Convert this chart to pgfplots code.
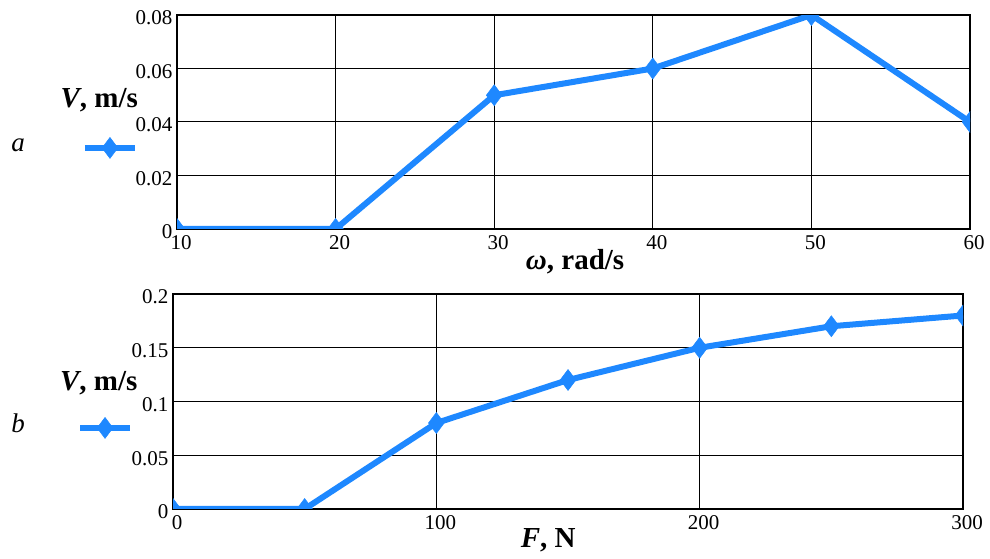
\documentclass[border=0pt]{standalone}
\usepackage{pgfplots}
\pgfplotsset{compat=1.18}
\usepackage{fontspec}
\setmainfont{Liberation Serif}
\definecolor{lineblue}{RGB}{30,136,255}
\pgfplotsset{
  mystyle/.style={
    scale only axis,
    clip marker paths=true,
    axis line style={black, line width=1.2pt},
    grid=major,
    grid style={black, line width=1pt},
    major tick length=0pt,
    tick label style={font=\fontsize{21}{23}\selectfont, black},
    /pgf/number format/assume math mode=true,
    scaled y ticks=false,
    yticklabel style={/pgf/number format/fixed, /pgf/number format/precision=2, xshift=-1pt, yshift=-3pt},
    xticklabel style={yshift=-3pt, xshift=4pt},
    legend style={draw=none, fill=none, inner sep=0pt, outer sep=0pt, anchor=center, font=\fontsize{1}{1}\selectfont},
    legend image code/.code={\draw[##1, mark repeat=2, mark phase=2] plot coordinates {(0pt,0pt) (25pt,0pt) (50pt,0pt)};},
  },
  myplot/.style={color=lineblue, line width=6pt, mark=diamond*, mark size=10.5pt, mark options={solid, line width=0.5pt}},
}
\begin{document}
\begin{tikzpicture}
\useasboundingbox (0pt,0pt) rectangle (990pt,559pt);
\begin{axis}[mystyle,
  at={(177pt,330pt)}, anchor=south west,
  width=793pt, height=214pt,
  xmin=10, xmax=60, ymin=0, ymax=0.08,
  xtick={10,20,30,40,50,60},
  ytick={0,0.02,0.04,0.06,0.08},
  every axis y label/.style={at={(axis description cs:-0.098,0.603)}, anchor=center, font=\fontsize{29}{32}\selectfont},
  every axis x label/.style={at={(axis description cs:0.502,-0.155)}, anchor=center, font=\fontsize{29}{32}\selectfont},
  ylabel={\textbf{\textit{V}, m/s}},
  xlabel={\textbf{\textit{ω}, rad/s}},
  legend style={at={(axis description cs:-0.082,0.379)}},
]
\addplot[myplot] coordinates {(10,0) (20,0) (30,0.05) (40,0.06) (50,0.08) (60,0.04)};
\addlegendentry{}
\end{axis}
\begin{axis}[mystyle,
  at={(173pt,50pt)}, anchor=south west,
  width=790pt, height=215pt,
  xmin=0, xmax=300, ymin=0, ymax=0.2,
  xtick={0,100,200,300},
  ytick={0,0.05,0.1,0.15,0.2},
  every axis y label/.style={at={(axis description cs:-0.094,0.586)}, anchor=center, font=\fontsize{29}{32}\selectfont},
  every axis x label/.style={at={(axis description cs:0.475,-0.144)}, anchor=center, font=\fontsize{29}{32}\selectfont},
  ylabel={\textbf{\textit{V}, m/s}},
  xlabel={\textbf{\textit{F}, N}},
  legend style={at={(axis description cs:-0.0835,0.377)}},
]
\addplot[myplot] coordinates {(0,0) (50,0) (100,0.08) (150,0.12) (200,0.15) (250,0.17) (300,0.18)};
\addlegendentry{}
\end{axis}
\node[font=\fontsize{27}{30}\selectfont\itshape] at (18pt,414pt) {a};
\node[font=\fontsize{27}{30}\selectfont\itshape] at (18pt,136pt) {b};
\end{tikzpicture}
\end{document}
